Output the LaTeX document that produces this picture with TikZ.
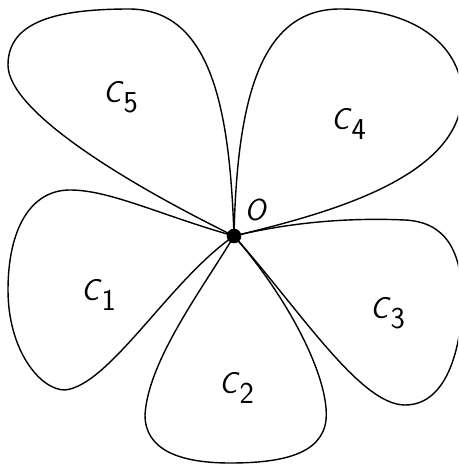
\documentclass[tikz,border=0pt]{standalone}
\begin{document}
\begin{tikzpicture}[x=0.02cm,y=-0.02cm,
  petal/.style={line width=0.8pt,line join=round},
  lbl/.style={font=\LARGE\sffamily,inner sep=0pt}]
\useasboundingbox (0,0) rectangle (458,465);
\clip (0,0) rectangle (458,465);
\coordinate (O) at (234,236);
% C5
\draw[petal] (O) .. controls (230,120) and (215,10) .. (130,9)
  .. controls (60,9) and (8,20) .. (8,65)
  .. controls (8,110) and (120,180) .. (O);
% C4
\draw[petal] (O) .. controls (237,100) and (260,9) .. (340,9)
  .. controls (420,9) and (462,50) .. (462,95)
  .. controls (460,180) and (320,215) .. (O);
% C3
\draw[petal] (O) .. controls (300,220) and (360,218) .. (405,220)
  .. controls (445,222) and (462,250) .. (462,300)
  .. controls (462,340) and (450,405) .. (405,405)
  .. controls (360,405) and (300,310) .. (O);
% C2
\draw[petal] (O) .. controls (290,300) and (330,380) .. (326,420)
  .. controls (322,455) and (280,463) .. (230,463)
  .. controls (180,463) and (145,450) .. (145,415)
  .. controls (148,360) and (205,285) .. (O);
% C1
\draw[petal] (O) .. controls (160,215) and (110,190) .. (70,190)
  .. controls (30,190) and (8,230) .. (8,290)
  .. controls (8,350) and (40,390) .. (65,390)
  .. controls (110,385) and (170,280) .. (O);
\fill (O) circle (7.3);
\node[lbl] (o) at (256,210) {\textit{O}};
\node[lbl] (c5) at (121,97) {\textit{C}$_{\textsf{5}}$};
\node[lbl] (c4) at (349,124) {\textit{C}$_{\textsf{4}}$};
\node[lbl] (c1) at (99,295) {\textit{C}$_{\textsf{1}}$};
\node[lbl] (c2) at (237,388) {\textit{C}$_{\textsf{2}}$};
\node[lbl] (c3) at (388,313) {\textit{C}$_{\textsf{3}}$};
\end{tikzpicture}
\end{document}
